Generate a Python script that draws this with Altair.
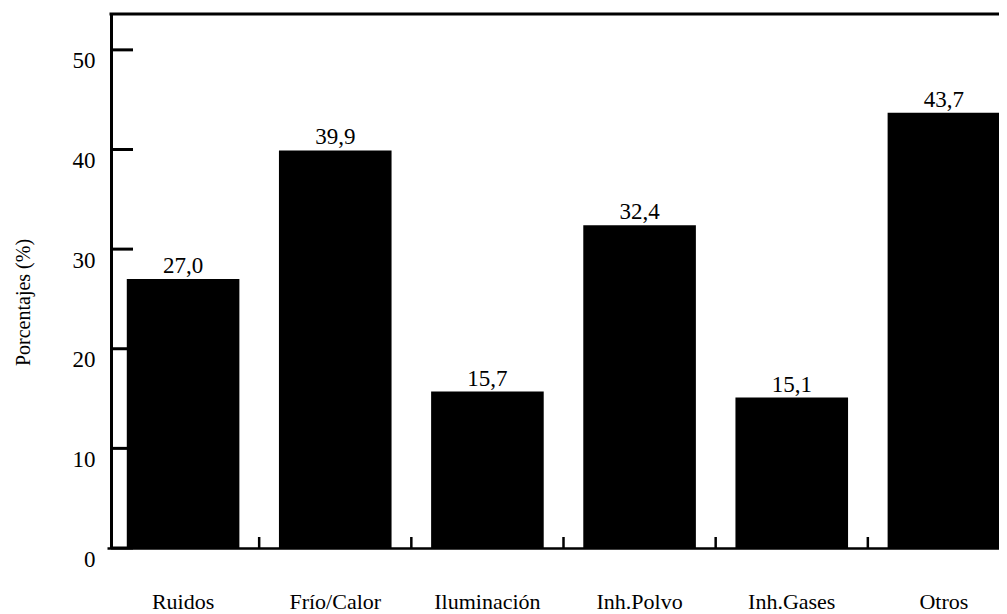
import altair as alt
import pandas as pd

categorias = ["Ruidos", "Frío/Calor", "Iluminación", "Inh.Polvo", "Inh.Gases", "Otros"]
valores = [27.0, 39.9, 15.7, 32.4, 15.1, 43.7]
y_ticks = [0, 10, 20, 30, 40, 50]
limites = [0.5, 1.5, 2.5, 3.5, 4.5]

df = pd.DataFrame({"cat": categorias, "valor": valores})
df_ticks = pd.DataFrame({"v": y_ticks})
df_lim = pd.DataFrame({"b": limites})
df_one = pd.DataFrame({"a": [0]})

W, H = 888, 534
FONT = "Liberation Serif"

xscale = alt.Scale(domain=categorias, range=[-4, 909], paddingInner=0.26, paddingOuter=0.13)
yscale = alt.Scale(domain=[0, 53.6], nice=False, zero=True)

xaxis = alt.Axis(title=None, labelAngle=0, labelFont=FONT, labelFontSize=22,
                 labelColor="black", labelBaseline="alphabetic", labelPadding=60,
                 ticks=False, domainColor="black", domainWidth=2.5, grid=False)
yaxis = alt.Axis(title="Porcentajes (%)", values=y_ticks, ticks=False, grid=False,
                 labelFont=FONT, labelFontSize=23, labelColor="black",
                 labelBaseline="alphabetic", labelOffset=18, labelPadding=16,
                 domainColor="black", domainWidth=3,
                 titleFont=FONT, titleFontSize=20, titleFontWeight="normal",
                 titleColor="black", titleX=-88, titleY=288,
                 titleBaseline="middle")

bars = alt.Chart(df).mark_bar(color="black").encode(
    x=alt.X("cat:N", sort=categorias, scale=xscale, axis=xaxis),
    y=alt.Y("valor:Q", scale=yscale, axis=yaxis),
)

labels = alt.Chart(df).transform_calculate(
    lab="replace(format(datum.valor, '.1f'), '.', ',')"
).mark_text(font=FONT, fontSize=23, color="black", baseline="alphabetic", dy=-6).encode(
    x=alt.X("cat:N", sort=categorias, scale=xscale, axis=xaxis),
    y=alt.Y("valor:Q", scale=yscale, axis=yaxis),
    text="lab:N",
)

ytick_rules = alt.Chart(df_ticks).mark_rule(color="black", strokeWidth=3).encode(
    y=alt.Y("v:Q", scale=yscale, axis=yaxis),
    x=alt.value(0),
    x2=alt.value(22),
)

top_line = alt.Chart(df_one).mark_rule(color="black", strokeWidth=3).encode(
    x=alt.value(-1.5),
    x2=alt.value(W + 20),
    y=alt.value(0),
)

main = alt.layer(bars, labels, ytick_rules, top_line)

xtick_rules = alt.Chart(df_lim).mark_rule(color="black", strokeWidth=2.5).encode(
    x=alt.X("b:Q", scale=alt.Scale(domain=[-0.5, 5.5], range=[-4, 909], nice=False, zero=False), axis=None),
    y=alt.value(H),
    y2=alt.value(H - 11),
)

chart = alt.layer(main, xtick_rules).resolve_scale(
    x="independent"
).properties(
    width=W, height=H,
    autosize=alt.AutoSizeParams(type="none"),
    padding={"left": 103, "top": 6, "right": 0, "bottom": 66},
    background="white",
).configure_view(strokeWidth=0)

chart.save("out.html", embed_options={"renderer": "svg", "actions": False})
